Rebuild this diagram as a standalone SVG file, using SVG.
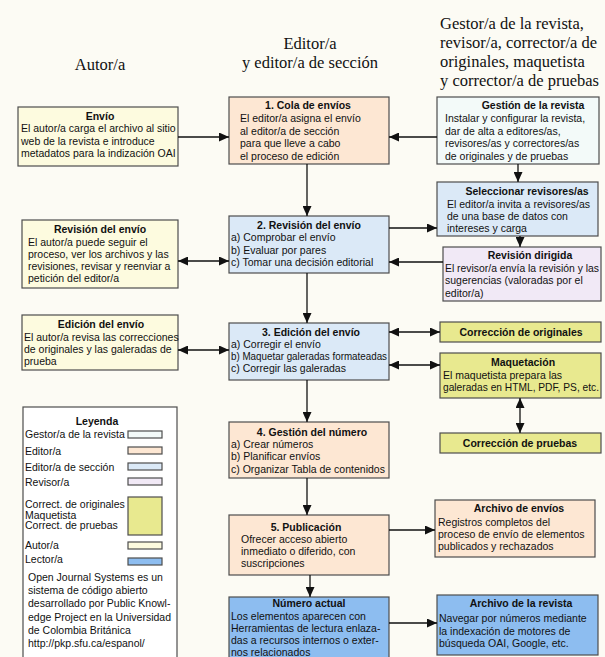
<svg xmlns="http://www.w3.org/2000/svg" width="605" height="657" viewBox="0 0 605 657">
<defs>
<marker id="ah" markerUnits="userSpaceOnUse" markerWidth="10" markerHeight="9" refX="10" refY="4.5" orient="auto-start-reverse" viewBox="0 0 10 9">
<path d="M0,0 L10,4.5 L0,9 z" fill="#111"/>
</marker>
<style>
.b{stroke:#4d4d4d;stroke-width:1.2}
.au{fill:#fdfbdf}.ed{fill:#fde7d3}.ge{fill:#f3faf9}.se{fill:#dbe9f7}.rv{fill:#f1e9f6}.ye{fill:#e8e98f}.le{fill:#8dbdf0}
text{font-family:"Liberation Sans",Arial,sans-serif;font-size:10.5px;fill:#111}
.t{font-weight:bold;text-anchor:middle}
.h{font-family:"Liberation Serif","Times New Roman",serif;font-size:16.5px;fill:#111}
.c line{stroke:#111;stroke-width:1.3;marker-end:url(#ah)}
.c line.d{marker-start:url(#ah)}
</style>
</defs>
<rect width="605" height="657" fill="#fcfbf4"/>

<g id="headers">
<text class="h" x="100" y="70" text-anchor="middle">Autor/a</text>
<text class="h" x="310" y="49" text-anchor="middle">Editor/a</text>
<text class="h" x="310" y="68" text-anchor="middle">y editor/a de sección</text>
<text class="h" x="440" y="29">Gestor/a de la revista,</text>
<text class="h" x="440" y="48">revisor/a, corrector/a de</text>
<text class="h" x="440" y="67">originales, maquetista</text>
<text class="h" x="440" y="86">y corrector/a de pruebas</text>
</g>

<g id="envio">
<rect class="b au" x="18" y="107" width="160" height="59"/>
<text class="t" x="100" y="120">Envío</text>
<text x="21" y="132">El autor/a carga el archivo al sitio</text>
<text x="21" y="145">web de la revista e introduce</text>
<text x="21" y="157">metadatos para la indización OAI</text>
</g>

<g id="cola">
<rect class="b ed" x="229" y="97" width="160" height="67"/>
<text class="t" x="308" y="109">1. Cola de envíos</text>
<text x="240" y="122">El editor/a asigna el envío</text>
<text x="240" y="134.5">al editor/a de sección</text>
<text x="240" y="147">para que lleve a cabo</text>
<text x="240" y="159.5">el proceso de edición</text>
</g>

<g id="gestion">
<rect class="b ge" x="437" y="97" width="162" height="67"/>
<text class="t" x="533" y="109">Gestión de la revista</text>
<text x="445" y="122">Instalar y configurar la revista,</text>
<text x="445" y="134.5">dar de alta a editores/as,</text>
<text x="445" y="147">revisores/as y correctores/as</text>
<text x="445" y="159.5">de originales y de pruebas</text>
</g>

<g id="seleccionar">
<rect class="b se" x="437" y="182" width="161" height="54"/>
<text class="t" x="527" y="195">Seleccionar revisores/as</text>
<text x="447" y="207.5">El editor/a invita a revisores/as</text>
<text x="447" y="220">de una base de datos con</text>
<text x="447" y="232">intereses y carga</text>
</g>

<g id="revision-dirigida">
<rect class="b rv" x="443" y="247" width="158" height="54"/>
<text class="t" x="530" y="259">Revisión dirigida</text>
<text x="445" y="271.5" textLength="154" lengthAdjust="spacingAndGlyphs">El revisor/a envía la revisión y las</text>
<text x="445" y="284">sugerencias (valoradas por el</text>
<text x="445" y="296.5">editor/a)</text>
</g>

<g id="revision-autor">
<rect class="b au" x="22" y="220" width="156" height="68"/>
<text class="t" x="100" y="233">Revisión del envío</text>
<text x="28" y="246">El autor/a puede seguir el</text>
<text x="28" y="258">proceso, ver los archivos y las</text>
<text x="28" y="270">revisiones, revisar y reenviar a</text>
<text x="28" y="282">petición del editor/a</text>
</g>

<g id="revision">
<rect class="b se" x="229" y="216" width="160" height="57"/>
<text class="t" x="309" y="229">2. Revisión del envío</text>
<text x="231" y="241">a) Comprobar el envío</text>
<text x="231" y="253.5">b) Evaluar por pares</text>
<text x="231" y="266">c) Tomar una decisión editorial</text>
</g>

<g id="edicion-autor">
<rect class="b au" x="22" y="315" width="156" height="55"/>
<text class="t" x="101" y="328">Edición del envío</text>
<text x="24" y="341">El autor/a revisa las correcciones</text>
<text x="24" y="353">de originales y las galeradas de</text>
<text x="24" y="365">prueba</text>
</g>

<g id="edicion">
<rect class="b se" x="229" y="323" width="160" height="57"/>
<text class="t" x="311" y="336">3. Edición del envío</text>
<text x="231" y="348">a) Corregir el envío</text>
<text x="231" y="359.5" textLength="156" lengthAdjust="spacingAndGlyphs">b) Maquetar galeradas formateadas</text>
<text x="231" y="372">c) Corregir las galeradas</text>
</g>

<g id="correccion-originales">
<rect class="b ye" x="440" y="322" width="161" height="20"/>
<text class="t" x="521" y="336">Corrección de originales</text>
</g>

<g id="maquetacion">
<rect class="b ye" x="440" y="353" width="161" height="45"/>
<text class="t" x="523" y="366">Maquetación</text>
<text x="443" y="378.5">El maquetista prepara las</text>
<text x="443" y="391" textLength="156" lengthAdjust="spacingAndGlyphs">galeradas en HTML, PDF, PS, etc.</text>
</g>

<g id="correccion-pruebas">
<rect class="b ye" x="440" y="433" width="161" height="20"/>
<text class="t" x="520" y="447">Corrección de pruebas</text>
</g>

<g id="gestion-numero">
<rect class="b ed" x="229" y="422" width="160" height="56"/>
<text class="t" x="312" y="436">4. Gestión del número</text>
<text x="231" y="448">a) Crear números</text>
<text x="231" y="460">b) Planificar envíos</text>
<text x="231" y="472.5">c) Organizar Tabla de contenidos</text>
</g>

<g id="publicacion">
<rect class="b ed" x="229" y="515" width="160" height="60"/>
<text class="t" x="306" y="531">5. Publicación</text>
<text x="241" y="542.5">Ofrecer acceso abierto</text>
<text x="241" y="555">inmediato o diferido, con</text>
<text x="241" y="567">suscripciones</text>
</g>

<g id="archivo-envios">
<rect class="b ed" x="435" y="500" width="160" height="57"/>
<text class="t" x="519" y="512">Archivo de envíos</text>
<text x="438" y="526">Registros completos del</text>
<text x="438" y="538">proceso de envío de elementos</text>
<text x="438" y="550">publicados y rechazados</text>
</g>

<g id="numero-actual">
<rect class="b le" x="229" y="597" width="160" height="72"/>
<text class="t" x="309" y="607">Número actual</text>
<text x="231" y="620">Los elementos aparecen con</text>
<text x="231" y="632">Herramientas de lectura enlaza-</text>
<text x="231" y="644">das a recursos internos o exter-</text>
<text x="231" y="656">nos relacionados</text>
</g>

<g id="archivo-revista">
<rect class="b le" x="437" y="595" width="161" height="60"/>
<text class="t" x="521" y="607">Archivo de la revista</text>
<text x="439" y="622">Navegar por números mediante</text>
<text x="439" y="634.5">la indexación de motores de</text>
<text x="439" y="647">búsqueda OAI, Google, etc.</text>
</g>

<g id="leyenda">
<rect x="23" y="407" width="154" height="263" fill="#ffffff" class="b"/>
<text class="t" x="97" y="425">Leyenda</text>
<text x="25" y="438">Gestor/a de la revista</text>
<text x="25" y="455">Editor/a</text>
<text x="25" y="471">Editor/a de sección</text>
<text x="25" y="486">Revisor/a</text>
<text x="25" y="508">Correct. de originales</text>
<text x="25" y="518.5">Maquetista</text>
<text x="25" y="529">Correct. de pruebas</text>
<text x="25" y="549">Autor/a</text>
<text x="25" y="563">Lector/a</text>
<rect class="b ge" x="128" y="431" width="34" height="7"/>
<rect class="b ed" x="128" y="447" width="34" height="7"/>
<rect class="b se" x="128" y="463" width="34" height="7"/>
<rect class="b rv" x="128" y="478" width="34" height="7"/>
<rect class="b ye" x="128" y="497" width="34" height="38"/>
<rect class="b au" x="128" y="542" width="34" height="7"/>
<rect class="b le" x="128" y="558" width="34" height="7"/>
<text x="28" y="581">Open Journal Systems es un</text>
<text x="28" y="594">sistema de código abierto</text>
<text x="28" y="607">desarrollado por Public Knowl-</text>
<text x="28" y="621">edge Project en la Universidad</text>
<text x="28" y="634">de Colombia Británica</text>
<text x="28" y="647">http://pkp.sfu.ca/espanol/</text>
</g>

<g id="connectors" class="c">
<line x1="178" y1="137" x2="229" y2="137"/>
<line x1="437" y1="137" x2="389" y2="137"/>
<line x1="307" y1="164" x2="307" y2="216"/>
<line x1="518" y1="164" x2="518" y2="182"/>
<line class="d" x1="178" y1="261" x2="229" y2="261"/>
<line x1="389" y1="228" x2="437" y2="228"/>
<line x1="443" y1="262" x2="389" y2="262"/>
<line x1="520" y1="236" x2="520" y2="247"/>
<line x1="307" y1="273" x2="307" y2="323"/>
<line class="d" x1="178" y1="350" x2="229" y2="350"/>
<line class="d" x1="389" y1="332" x2="440" y2="332"/>
<line class="d" x1="389" y1="365" x2="440" y2="365"/>
<line class="d" x1="520" y1="398" x2="520" y2="433"/>
<line x1="307" y1="380" x2="307" y2="422"/>
<line x1="307" y1="478" x2="307" y2="515"/>
<line x1="389" y1="530" x2="435" y2="530"/>
<line x1="310" y1="575" x2="310" y2="597"/>
<line x1="389" y1="623" x2="437" y2="623"/>
</g>
</svg>
